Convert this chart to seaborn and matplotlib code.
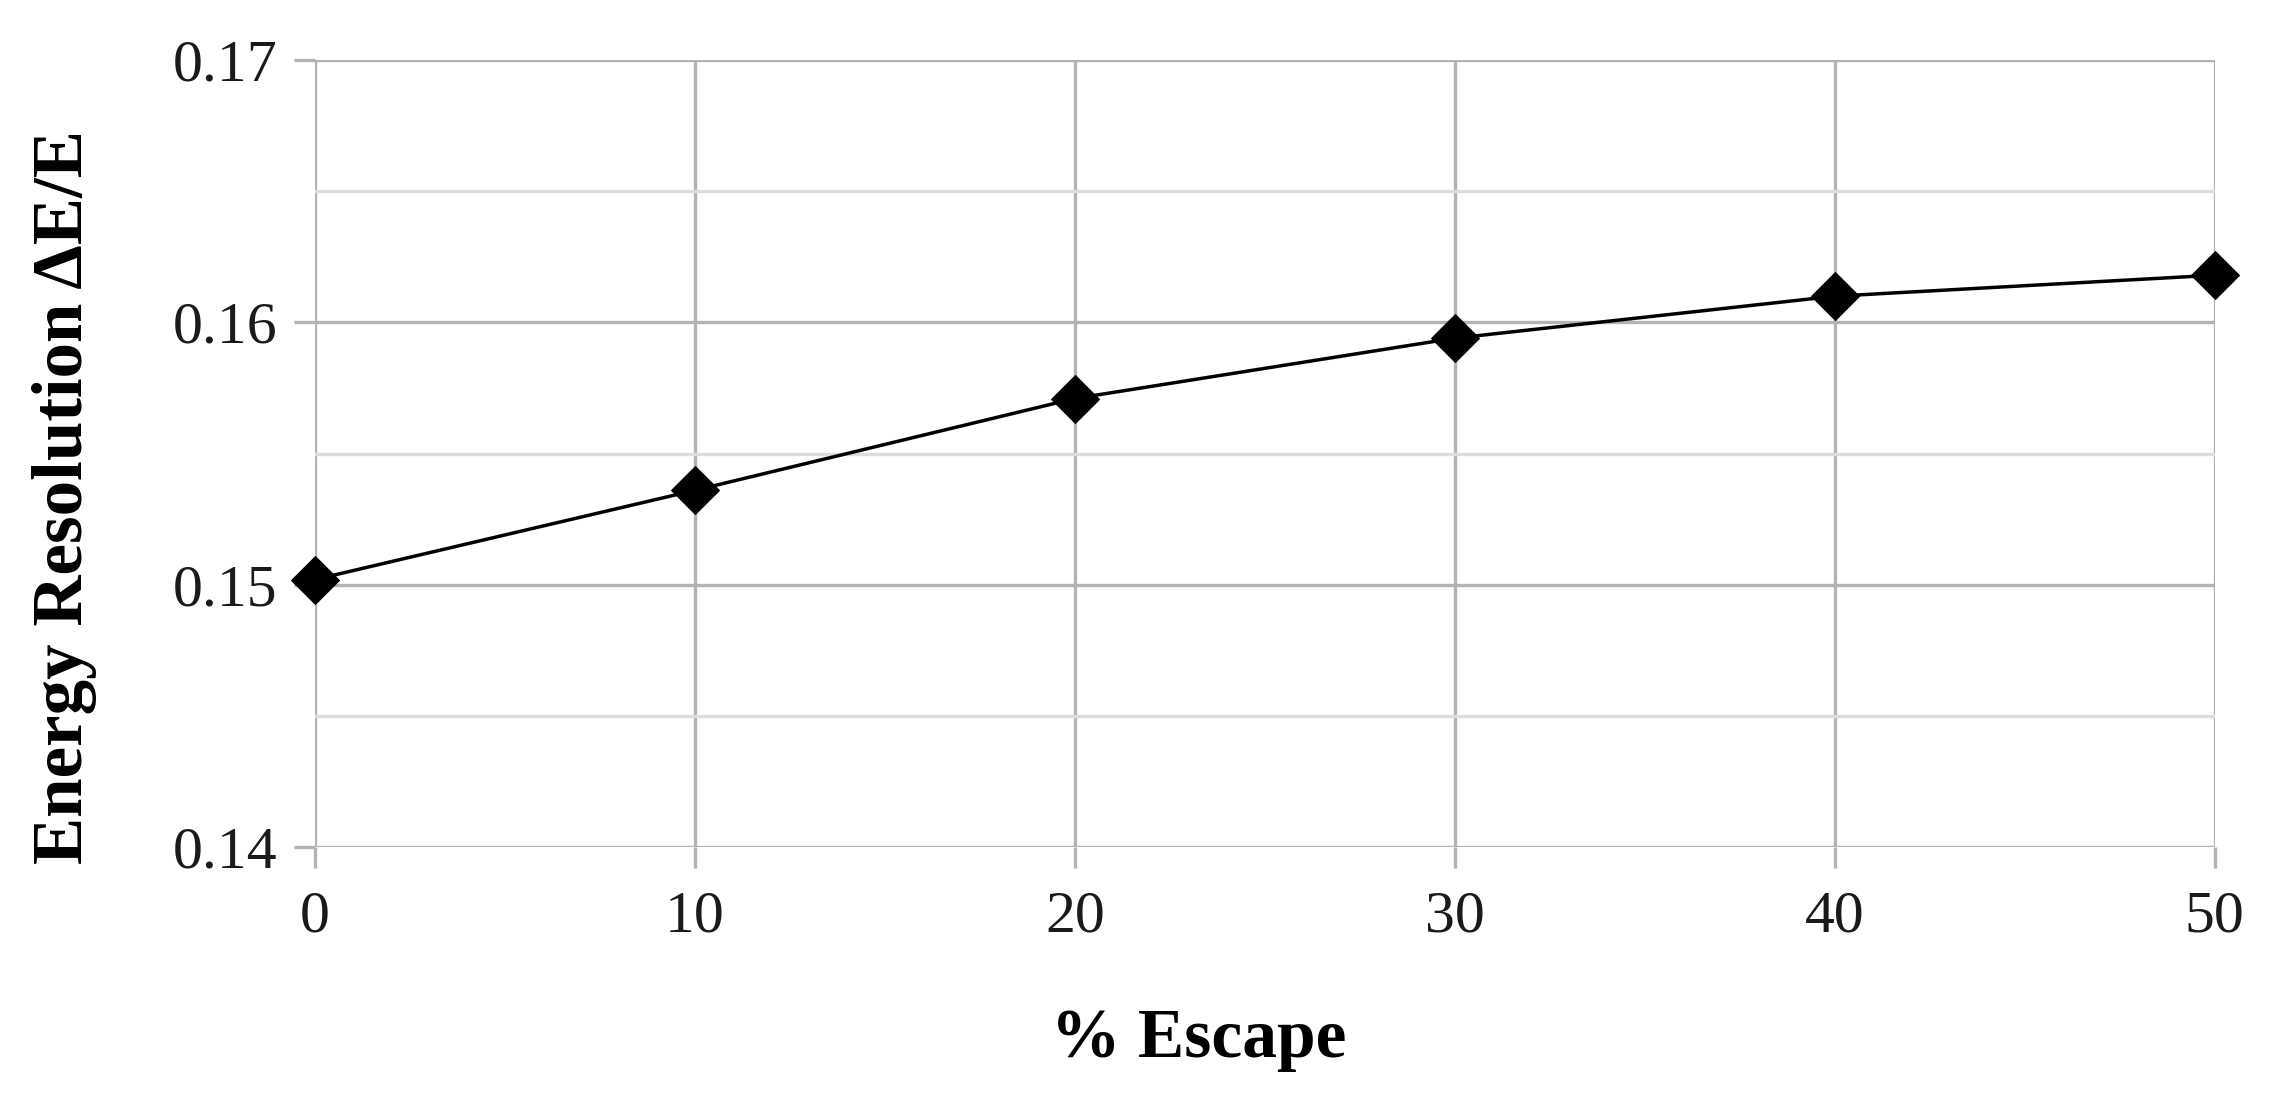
import numpy as np
import pandas as pd
import matplotlib
matplotlib.use('Agg')
import matplotlib.pyplot as plt
import seaborn as sns
from matplotlib.ticker import MultipleLocator

# 数据
escape = [0, 10, 20, 30, 40, 50]
resolution = [0.1502, 0.1536, 0.1571, 0.1594, 0.1610, 0.1618]
df = pd.DataFrame({'escape': escape, 'resolution': resolution})

sns.set_style('white')
plt.rcParams['font.family'] = ['Liberation Serif', 'DejaVu Serif']

fig = plt.figure(figsize=(22.83, 11.03), dpi=100)
ax = fig.add_axes([0.138, 0.232, 0.832, 0.7135])

sns.lineplot(data=df, x='escape', y='resolution', ax=ax,
             color='black', linewidth=2.5, marker='D', markersize=24,
             markeredgecolor='black', zorder=3, clip_on=False)

ax.set_xlim(0, 50)
ax.set_ylim(0.14, 0.17)
ax.xaxis.set_major_locator(MultipleLocator(10))
ax.yaxis.set_major_locator(MultipleLocator(0.01))
ax.yaxis.set_minor_locator(MultipleLocator(0.005))
ax.set_yticklabels([f'{v:.2f}' for v in ax.get_yticks()])

ax.grid(which='major', color='#b3b3b3', linewidth=2.4)
ax.grid(which='minor', axis='y', color='#dddddd', linewidth=2.4)
ax.set_axisbelow(True)
for s in ax.spines.values():
    s.set_visible(False)

ax.tick_params(axis='both', which='major', labelsize=43, length=15,
               width=2.4, color='#b3b3b3', labelcolor='#1a1a1a', pad=12)
ax.tick_params(axis='x', pad=16)
ax.tick_params(axis='both', which='minor', length=0)
ax.tick_params(axis='y', left=True)
ax.tick_params(axis='x', bottom=True)

ax.set_xlabel('% Escape', fontsize=50, fontweight='bold', color='black')
ax.set_ylabel('Energy Resolution ΔE/E', fontsize=51, fontweight='bold', color='black')
ax.xaxis.set_label_coords(0.465, -0.205)
ax.yaxis.set_label_coords(-0.115, 0.445)

plt.savefig('out.png', dpi=100)
